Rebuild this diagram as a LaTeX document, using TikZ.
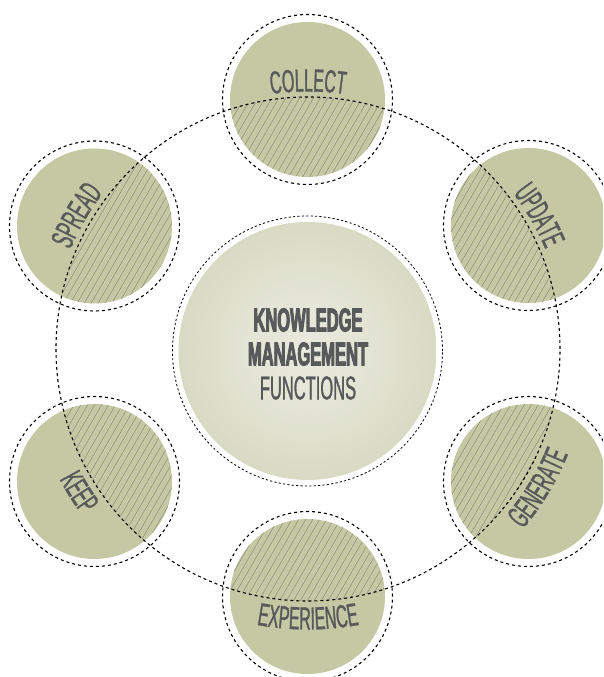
\documentclass[tikz,border=0pt]{standalone}
\usepackage{fontspec}
\usetikzlibrary{calc,decorations.text,patterns.meta}
\newfontfamily\kmfont{Liberation Sans}[FakeStretch=0.5,FakeBold=0.9,BoldFeatures={FakeBold=2.6}]
\definecolor{SatClr}{RGB}{196,200,163}
\definecolor{CoreClr}{RGB}{233,234,222}
\definecolor{HatchClr}{RGB}{138,141,122}
\definecolor{TextClr}{RGB}{88,89,91}
\pgfdeclareradialshading{CoreGlow}{\pgfpoint{0bp}{0bp}}{color(0bp)=(CoreClr); color(14bp)=(CoreClr!80!SatClr); color(48bp)=(SatClr); color(100bp)=(SatClr)}
\newcommand\satfont{\kmfont\fontsize{32}{32}\selectfont}
\tikzset{
  satring/.style={line width=1.1pt,dash pattern=on 3pt off 3pt},
  corering/.style={line width=0.8pt,dash pattern=on 2.2pt off 2.2pt},
  hatch/.style={pattern={Lines[angle=60,distance=6pt,line width=0.5pt]},pattern color=HatchClr},
  satlabel/.style={decorate,decoration={text along path,text align=center,
    text color=TextClr,text={|\satfont|#1}}}
}

\begin{document}
\begin{tikzpicture}[x=1pt,y=1pt]
\useasboundingbox (0,0) rectangle (603,677);
\clip (0,0) rectangle (603,677);

\coordinate (C) at (308,328);
\coordinate (Collect) at (307.5,577.5);
\coordinate (Update) at (528.5,451.5);
\coordinate (Generate) at (528.5,195.5);
\coordinate (Experience) at (307.5,80.5);
\coordinate (Keep) at (94.5,195.5);
\coordinate (Spread) at (94.5,451);

% Fill the six satellites.
\fill[SatClr] (Collect) circle (77.5);
\fill[SatClr] (Update) circle (77.5);
\fill[SatClr] (Generate) circle (77.5);
\fill[SatClr] (Experience) circle (77.5);
\fill[SatClr] (Keep) circle (77.5);
\fill[SatClr] (Spread) circle (77.5);

% Hatch the parts inside the big ring.
\begin{scope}
\clip (Collect) circle (77.5);
\fill[hatch] (C) circle (252);
\end{scope}
\begin{scope}
\clip (Update) circle (77.5);
\fill[hatch] (C) circle (252);
\end{scope}
\begin{scope}
\clip (Generate) circle (77.5);
\fill[hatch] (C) circle (252);
\end{scope}
\begin{scope}
\clip (Experience) circle (77.5);
\fill[hatch] (C) circle (252);
\end{scope}
\begin{scope}
\clip (Keep) circle (77.5);
\fill[hatch] (C) circle (252);
\end{scope}
\begin{scope}
\clip (Spread) circle (77.5);
\fill[hatch] (C) circle (252);
\end{scope}

% Core circle.
\shade[shading=CoreGlow] (307.5,326) circle (129);
\draw[corering] (307.5,326) circle (135);

% Dashed rings.
\draw[satring] (Collect) circle (85);
\draw[satring] (Update) circle (85);
\draw[satring] (Generate) circle (85);
\draw[satring] (Experience) circle (85);
\draw[satring] (Keep) circle (85);
\draw[satring] (Spread) circle (85);
\draw[satring] (C) circle (252);

\node[text=TextClr,align=center,font=\kmfont\fontsize{33}{34}\selectfont] (core) at (308,323)
  {\textbf{KNOWLEDGE}\\\textbf{MANAGEMENT}\\FUNCTIONS};

% Labels along the ring.
\path[satlabel={COLLECT}] ($(C)+(120:257.5)$) arc[start angle=120,end angle=60,radius=257.5];
\path[satlabel={UPDATE}] ($(C)+(60:257.5)$) arc[start angle=60,end angle=0,radius=257.5];
\path[satlabel={SPREAD}] ($(C)+(180:257.5)$) arc[start angle=180,end angle=120,radius=257.5];
\path[satlabel={GENERATE}] ($(C)+(-61:280.5)$) arc[start angle=-61,end angle=-1,radius=280.5];
\path[satlabel={EXPERIENCE}] ($(C)+(-120:280.5)$) arc[start angle=-120,end angle=-60,radius=280.5];
\path[satlabel={KEEP}] ($(C)+(182:280.5)$) arc[start angle=182,end angle=242,radius=280.5];

\end{tikzpicture}
\end{document}
